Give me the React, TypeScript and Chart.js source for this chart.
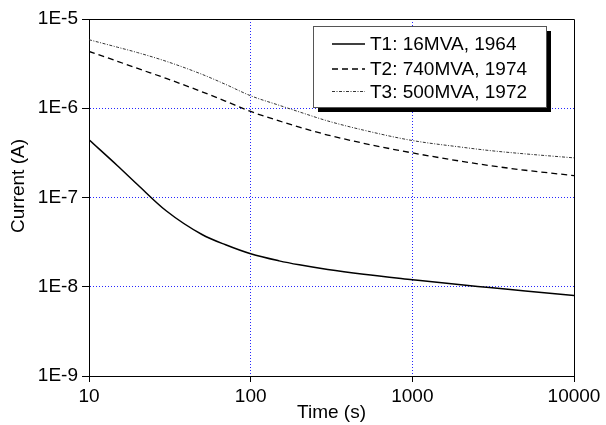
import { useEffect, useRef } from 'react';
import { Chart, registerables } from 'chart.js';
Chart.register(...registerables);

const times = [10, 15, 20, 30, 50, 70, 100, 150, 200, 300, 500, 1000, 2000, 3000, 5000, 10000];
const t1Values = [4.43e-7, 2.27e-7, 1.39e-7, 7.1e-8, 3.85e-8, 2.95e-8, 2.34e-8, 1.95e-8, 1.76e-8, 1.56e-8, 1.38e-8, 1.2e-8, 1.05e-8, 9.8e-9, 8.95e-9, 8.0e-9];
const t2Values = [4.33e-6, 3.36e-6, 2.79e-6, 2.16e-6, 1.53e-6, 1.2e-6, 9.2e-7, 7.21e-7, 6.14e-7, 5.01e-7, 4.05e-7, 3.16e-7, 2.55e-7, 2.28e-7, 2.02e-7, 1.76e-7];
const t3Values = [5.86e-6, 4.83e-6, 4.2e-6, 3.36e-6, 2.4e-6, 1.85e-6, 1.38e-6, 1.08e-6, 9.1e-7, 7.2e-7, 5.68e-7, 4.35e-7, 3.67e-7, 3.36e-7, 3.08e-7, 2.78e-7];
const seriesLabels = ['T1: 16MVA, 1964', 'T2: 740MVA, 1974', 'T3: 500MVA, 1972'];
const xTicks = [10, 100, 1000, 10000];
const yTicks = [1e-9, 1e-8, 1e-7, 1e-6, 1e-5];
const xTitle = 'Time (s)';
const yTitle = 'Current (A)';

const FONT = '"Liberation Sans", Arial, sans-serif';
const FONT_SIZE = 19;
const GRID_BLUE = 'rgba(0,0,255,0.85)';

function align(p: number) {
  return Math.round(p - 0.5) + 0.5;
}

const framePlugin = {
  id: 'frame',
  afterDraw(chart: any) {
    const { ctx, chartArea } = chart;
    ctx.save();
    ctx.strokeStyle = '#000';
    ctx.lineWidth = 1;
    ctx.beginPath();
    const top = align(chartArea.top);
    const right = align(chartArea.right);
    ctx.moveTo(align(chartArea.left), top);
    ctx.lineTo(right, top);
    ctx.lineTo(right, align(chartArea.bottom));
    ctx.stroke();
    // y axis title
    ctx.translate(19, 186);
    ctx.rotate(-Math.PI / 2);
    ctx.fillStyle = '#000';
    ctx.font = `${FONT_SIZE}px ${FONT}`;
    ctx.textAlign = 'center';
    ctx.textBaseline = 'middle';
    ctx.fillText(yTitle, 0, 0);
    ctx.restore();
  },
};

const legendPlugin = {
  id: 'boxLegend',
  afterDraw(chart: any) {
    const { ctx } = chart;
    const x0 = 313, y0 = 26, w = 233, h = 81, sh = 5;
    ctx.save();
    ctx.fillStyle = '#000';
    ctx.fillRect(x0 + sh, y0 + sh, w, h);
    ctx.fillStyle = '#fff';
    ctx.fillRect(x0, y0, w, h);
    ctx.strokeStyle = '#555';
    ctx.lineWidth = 1;
    ctx.strokeRect(x0 + 0.5, y0 + 0.5, w, h);
    const baselines = [49.5, 74.5, 97.5];
    const lineYs = [44, 69, 91.5];
    chart.data.datasets.forEach((ds: any, i: number) => {
      ctx.save();
      ctx.strokeStyle = ds.borderColor;
      ctx.lineWidth = ds.borderWidth;
      ctx.setLineDash(ds.borderDash || []);
      ctx.beginPath();
      ctx.moveTo(332, lineYs[i]);
      ctx.lineTo(365, lineYs[i]);
      ctx.stroke();
      ctx.restore();
      ctx.fillStyle = '#000';
      ctx.font = `${FONT_SIZE}px ${FONT}`;
      ctx.textAlign = 'left';
      ctx.textBaseline = 'alphabetic';
      ctx.fillText(ds.label, 370, baselines[i]);
    });
    ctx.restore();
  },
};

export default function App() {
  const ref = useRef<HTMLCanvasElement | null>(null);
  useEffect(() => {
    if (!ref.current) return;
    const mk = (vals: number[]) => times.map((t, i) => ({ x: t, y: vals[i] }));
    const chart = new Chart(ref.current, {
      type: 'line',
      data: {
        datasets: [
          { label: seriesLabels[0], data: mk(t1Values), borderColor: '#000', borderWidth: 1.5, borderDash: [], pointRadius: 0, cubicInterpolationMode: 'monotone', fill: false },
          { label: seriesLabels[1], data: mk(t2Values), borderColor: '#000', borderWidth: 1.3, borderDash: [6, 4], pointRadius: 0, cubicInterpolationMode: 'monotone', fill: false },
          { label: seriesLabels[2], data: mk(t3Values), borderColor: '#333', borderWidth: 1, borderDash: [3, 1.5, 1, 1.5], pointRadius: 0, cubicInterpolationMode: 'monotone', fill: false },
        ],
      },
      options: {
        animation: false,
        responsive: true,
        maintainAspectRatio: false,
        layout: { padding: { top: 19, right: 32, left: 0, bottom: 0 } },
        plugins: { legend: { display: false }, tooltip: { enabled: false } },
        scales: {
          x: {
            type: 'logarithmic',
            position: 'bottom',
            min: 10,
            max: 10000,
            afterBuildTicks: (s: any) => { s.ticks = xTicks.map((v) => ({ value: v })); },
            afterFit: (s: any) => { s.height = 49; },
            ticks: {
              color: '#000',
              font: { family: FONT, size: FONT_SIZE },
              padding: 3,
              maxRotation: 0,
              autoSkip: false,
              callback: (v: any) => String(v),
            },
            grid: {
              color: (c: any) => (c.tick && (c.tick.value === 10 || c.tick.value === 10000) ? 'rgba(0,0,0,0)' : GRID_BLUE),
              tickColor: '#000',
              tickLength: 6,
              lineWidth: 1,
            },
            border: { color: '#000', width: 1, dash: [1, 2] },
            title: { display: true, text: xTitle, color: '#000', font: { family: FONT, size: FONT_SIZE }, padding: { top: 0, bottom: 1 } },
          },
          y: {
            type: 'logarithmic',
            position: 'left',
            min: 1e-9,
            max: 1e-5,
            afterBuildTicks: (s: any) => { s.ticks = yTicks.map((v) => ({ value: v })); },
            afterFit: (s: any) => { s.width = 89; },
            ticks: {
              color: '#000',
              font: { family: FONT, size: FONT_SIZE },
              padding: 4,
              autoSkip: false,
              callback: (v: any) => '1E' + Math.round(Math.log10(Number(v))),
            },
            grid: {
              color: (c: any) => (c.tick && (Math.abs(Math.log10(c.tick.value) + 9) < 0.01 || Math.abs(Math.log10(c.tick.value) + 5) < 0.01) ? 'rgba(0,0,0,0)' : GRID_BLUE),
              tickColor: '#000',
              tickLength: 7,
              lineWidth: 1,
            },
            border: { color: '#000', width: 1, dash: [1, 2] },
            title: { display: false, text: yTitle },
          },
        },
      },
      plugins: [framePlugin, legendPlugin],
    } as any);
    return () => chart.destroy();
  }, []);
  return (
    <div style={{ position: 'absolute', left: 0, top: 0, width: 606, height: 425, background: '#fff' }}>
      <canvas ref={ref} />
    </div>
  );
}
